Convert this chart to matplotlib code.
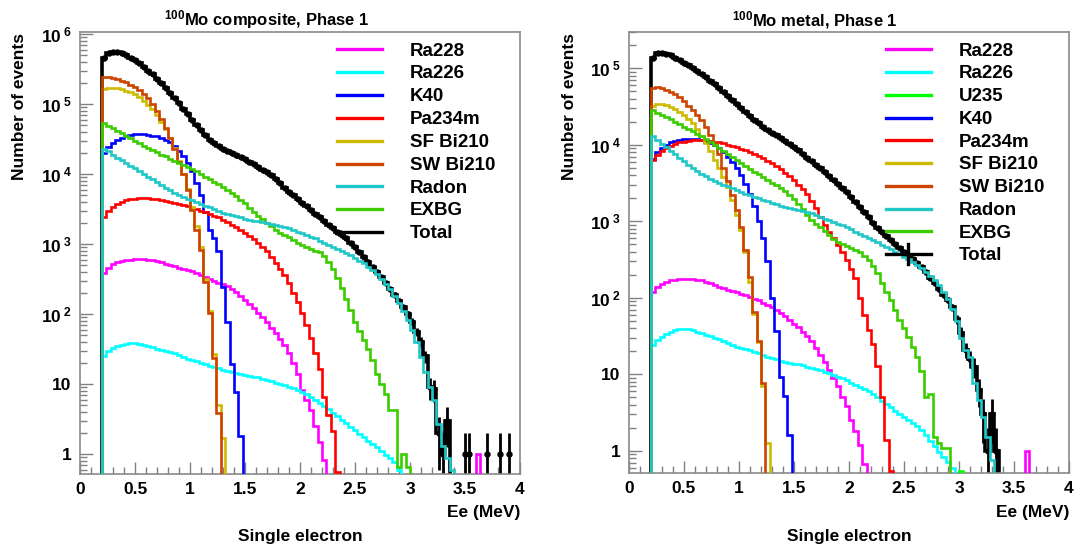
import numpy as np
import matplotlib
matplotlib.use('Agg')
import matplotlib.pyplot as plt
from matplotlib.ticker import FixedLocator, LogLocator, MultipleLocator, NullFormatter, FuncFormatter

plt.rcParams['font.family'] = ['Liberation Sans', 'DejaVu Sans']
plt.rcParams['font.weight'] = 'bold'
plt.rcParams['mathtext.fontset'] = 'custom'
plt.rcParams['mathtext.rm'] = 'Liberation Sans:bold'
plt.rcParams['mathtext.it'] = 'Liberation Sans:bold'
plt.rcParams['mathtext.bf'] = 'Liberation Sans:bold'

# 100 bins of 0.04 MeV, all series start in the bin 0.20-0.24
edges = np.linspace(0, 4, 101)
first_bin = 5

# ---------------- 100Mo composite ----------------
ra228_L = [390, 460, 515, 550, 575, 590, 600, 608, 610, 608,
           600, 585, 565, 545, 525, 500, 480, 460, 440, 420,
           405, 385, 360, 335, 315, 295, 280, 265, 250, 230,
           205, 180, 160, 140, 122, 105, 90, 76, 64, 54,
           44, 36, 28, 20, 14, 8.2, 6.0, 4.3, 2.5, 1.5,
           0.83] + [0] * 34 + [1]
ra226_L = [25, 30, 33, 35, 36.5, 37.5, 38, 38, 37, 36,
           35, 33.5, 32, 31, 30, 28.5, 27.5, 26, 24.5, 23,
           22, 21, 20, 19, 18.2, 17.4, 16.7, 16, 15.4, 14.9,
           14.4, 14, 13.6, 13.2, 12.8, 12.4, 11.9, 11.4, 10.9, 10.5,
           10.1, 9.7, 9.2, 8.7, 8.2, 7.7, 7.1, 6.5, 5.9, 5.4,
           4.9, 4.4, 3.9, 3.5, 3.1, 2.75, 2.45, 2.2, 1.95, 1.75,
           1.55, 1.4, 1.25, 1.1, 0.98, 0.88, 0.78, 0.6]
k40_L = [2.0e4, 2.4e4, 2.75e4, 3.05e4, 3.3e4, 3.45e4, 3.6e4, 3.7e4, 3.72e4, 3.7e4,
         3.65e4, 3.55e4, 3.45e4, 3.3e4, 3.1e4, 2.85e4, 2.5e4, 2.15e4, 1.8e4, 1.45e4,
         1.1e4, 7.5e3, 5.0e3, 2.9e3, 1.6e3, 1.2e3, 800, 244, 78, 19,
         7.8, 1.8]
pa234m_L = [2.4e3, 3.0e3, 3.4e3, 3.75e3, 4.0e3, 4.2e3, 4.35e3, 4.45e3, 4.5e3, 4.5e3,
            4.48e3, 4.42e3, 4.35e3, 4.25e3, 4.15e3, 4.0e3, 3.9e3, 3.75e3, 3.6e3, 3.45e3,
            3.3e3, 3.15e3, 3.0e3, 2.85e3, 2.7e3, 2.55e3, 2.4e3, 2.2e3, 2.05e3, 1.9e3,
            1.75e3, 1.6e3, 1.45e3, 1.3e3, 1.18e3, 1.05e3, 920, 800, 660, 530,
            440, 360, 275, 200, 150, 103, 70, 45, 28, 16.6,
            6.6, 3.6, 2.1, 0.55]
sfbi_L = [1.65e5, 1.7e5, 1.7e5, 1.67e5, 1.62e5, 1.55e5, 1.47e5, 1.37e5, 1.25e5, 1.12e5,
          9.8e4, 8.4e4, 7.0e4, 5.6e4, 4.4e4, 3.3e4, 2.35e4, 1.55e4, 1.0e4, 6.2e3,
          3.4e3, 1.8e3, 900, 320, 110, 27, 5, 1.7]
swbi_L = [2.45e5, 2.4e5, 2.35e5, 2.25e5, 2.15e5, 2.05e5, 1.9e5, 1.75e5, 1.6e5, 1.4e5,
          1.2e5, 1.0e5, 8.0e4, 6.2e4, 4.6e4, 3.3e4, 2.3e4, 1.5e4, 1.0e4, 5.9e3,
          3.1e3, 1.6e3, 820, 290, 103, 23.5, 3.8]
radon_L = [2.3e4, 2.1e4, 1.9e4, 1.72e4, 1.57e4, 1.44e4, 1.32e4, 1.2e4, 1.1e4, 1.0e4,
           9.2e3, 8.4e3, 7.7e3, 7.0e3, 6.4e3, 5.9e3, 5.4e3, 5.0e3, 4.7e3, 4.45e3,
           4.2e3, 4.0e3, 3.75e3, 3.55e3, 3.35e3, 3.15e3, 2.95e3, 2.8e3, 2.7e3, 2.6e3,
           2.5e3, 2.4e3, 2.3e3, 2.22e3, 2.15e3, 2.1e3, 2.05e3, 2.0e3, 1.95e3, 1.9e3,
           1.83e3, 1.76e3, 1.68e3, 1.6e3, 1.5e3, 1.42e3, 1.35e3, 1.27e3, 1.2e3, 1.12e3,
           1.05e3, 980, 910, 850, 790, 740, 690, 640, 580, 530,
           470, 420, 370, 320, 270, 225, 180, 142, 110, 82,
           59, 40, 24, 15, 9, 5.9, 2.7, 1.3, 0.87, 0.6]
exbg_L = [5.3e4, 4.9e4, 4.5e4, 4.15e4, 3.8e4, 3.5e4, 3.25e4, 3.0e4, 2.75e4, 2.55e4,
          2.35e4, 2.2e4, 2.05e4, 1.9e4, 1.78e4, 1.66e4, 1.55e4, 1.45e4, 1.36e4, 1.27e4,
          1.18e4, 1.09e4, 1.0e4, 9.2e3, 8.5e3, 7.8e3, 7.2e3, 6.6e3, 6.0e3, 5.4e3,
          4.8e3, 4.3e3, 3.8e3, 3.3e3, 2.9e3, 2.55e3, 2.25e3, 2.0e3, 1.8e3, 1.6e3,
          1.45e3, 1.35e3, 1.25e3, 1.15e3, 1.05e3, 970, 900, 840, 800, 760,
          680, 560, 440, 330, 235, 166, 115, 78, 58, 43,
          32, 22, 14, 10, 7.2, 4.3, 4.3, 0.66, 1.0, 0.66]
total_L = [4.6e5, 5.4e5, 5.6e5, 5.5e5, 5.3e5, 5.0e5, 4.6e5, 4.2e5, 3.8e5, 3.4e5,
           3.0e5, 2.65e5, 2.3e5, 2.0e5, 1.7e5, 1.45e5, 1.22e5, 1.02e5, 8.6e4, 7.2e4,
           6.0e4, 5.0e4, 4.2e4, 3.6e4, 3.1e4, 2.75e4, 2.5e4, 2.3e4, 2.15e4, 2.0e4,
           1.87e4, 1.75e4, 1.62e4, 1.5e4, 1.38e4, 1.27e4, 1.16e4, 1.06e4, 9.6e3, 8.5e3,
           7.4e3, 6.4e3, 5.6e3, 4.95e3, 4.4e3, 3.9e3, 3.45e3, 3.05e3, 2.7e3, 2.4e3,
           2.1e3, 1.88e3, 1.68e3, 1.5e3, 1.35e3, 1.2e3, 1.05e3, 900, 760, 650,
           550, 470, 400, 335, 280, 230, 190, 155, 125, 100,
           78, 56, 40, 25, 9, 8.5, 2, 1, 3, 0,
           0, 0, 1, 1, 0, 0, 0, 1, 0, 0,
           1, 0, 1]

# ---------------- 100Mo metal ----------------
ra228_R = [120, 140, 152, 162, 168, 172, 175, 177, 177, 175,
           172, 168, 162, 155, 148, 140, 133, 127, 122, 117,
           112, 107, 102, 97, 92, 86, 80, 75, 69, 63,
           57, 51, 46, 41, 36, 32, 27, 22, 18, 14.5,
           11.5, 9, 7, 5, 3.8, 2.5, 1.8, 1.2, 0.67] + [0] * 36 + [1]
ra226_R = [24, 28, 31, 34, 36, 37.5, 38.5, 39, 39, 37.5,
           36, 34.5, 33, 31.5, 30, 28.5, 27, 25.5, 24, 22.8,
           22, 21.2, 20.5, 19.8, 19, 18, 17, 16.2, 15.6, 15,
           14.6, 14.2, 13.8, 13.4, 13, 12.6, 12.2, 11.8, 11.3, 10.8,
           10.3, 9.8, 9.3, 8.8, 8.3, 7.7, 7.2, 6.8, 6.4, 6.0,
           5.5, 5.0, 4.5, 4.1, 3.7, 3.3, 3.0, 2.75, 2.5, 2.3,
           2.1, 1.85, 1.6, 1.35, 1.15, 0.95, 0.82, 0.72, 0.6]
u235_R = [0] * 70 + [0.55]
k40_R = [6.5e3, 8.0e3, 9.0e3, 1.0e4, 1.07e4, 1.12e4, 1.16e4, 1.19e4, 1.2e4, 1.2e4,
         1.18e4, 1.15e4, 1.1e4, 1.05e4, 9.8e3, 9.0e3, 8.0e3, 7.0e3, 6.0e3, 5.0e3,
         4.0e3, 3.1e3, 2.3e3, 1.6e3, 1.0e3, 600, 300, 98, 37, 9.3,
         5.2, 1.6]
pa234m_R = [6.3e3, 7.4e3, 8.3e3, 9.0e3, 9.6e3, 1.02e4, 1.07e4, 1.1e4, 1.13e4, 1.15e4,
            1.16e4, 1.16e4, 1.15e4, 1.13e4, 1.1e4, 1.07e4, 1.04e4, 1.0e4, 9.6e3, 9.2e3,
            8.8e3, 8.4e3, 8.0e3, 7.6e3, 7.2e3, 6.7e3, 6.2e3, 5.7e3, 5.2e3, 4.8e3,
            4.3e3, 3.9e3, 3.5e3, 3.0e3, 2.6e3, 2.25e3, 1.85e3, 1.5e3, 1.15e3, 900,
            720, 600, 490, 400, 310, 240, 180, 100, 60, 38,
            25, 12.7, 5.1, 1.4, 0.55]
sfbi_R = [3.2e4, 3.4e4, 3.4e4, 3.3e4, 3.15e4, 2.95e4, 2.7e4, 2.45e4, 2.2e4, 1.9e4,
          1.6e4, 1.3e4, 1.05e4, 8.2e3, 6.3e3, 4.9e3, 3.8e3, 2.8e3, 1.9e3, 1.2e3,
          760, 400, 160, 62, 26, 7, 1.25]
swbi_R = [5.5e4, 5.6e4, 5.5e4, 5.25e4, 4.95e4, 4.6e4, 4.15e4, 3.7e4, 3.25e4, 2.85e4,
          2.45e4, 2.1e4, 1.7e4, 1.35e4, 1.05e4, 7.6e3, 5.0e3, 3.4e3, 2.2e3, 1.4e3,
          850, 420, 185, 66, 27, 7.6]
radon_R = [1.3e4, 1.15e4, 1.02e4, 9.2e3, 8.2e3, 7.5e3, 6.8e3, 6.1e3, 5.5e3, 5.0e3,
           4.6e3, 4.2e3, 3.9e3, 3.6e3, 3.35e3, 3.15e3, 3.0e3, 2.85e3, 2.7e3, 2.55e3,
           2.4e3, 2.3e3, 2.2e3, 2.1e3, 2.0e3, 1.9e3, 1.82e3, 1.75e3, 1.68e3, 1.6e3,
           1.53e3, 1.47e3, 1.43e3, 1.4e3, 1.36e3, 1.33e3, 1.27e3, 1.2e3, 1.14e3, 1.08e3,
           1.03e3, 980, 930, 880, 830, 780, 730, 690, 650, 610,
           570, 530, 490, 460, 430, 400, 370, 345, 320, 295,
           270, 245, 220, 195, 170, 145, 120, 95, 72, 50,
           30, 21, 17, 7.6, 4.6, 2.8, 1.5, 0.75]
exbg_R = [2.8e4, 2.6e4, 2.45e4, 2.3e4, 2.15e4, 2.0e4, 1.85e4, 1.72e4, 1.6e4, 1.5e4,
          1.4e4, 1.3e4, 1.2e4, 1.1e4, 1.0e4, 9.0e3, 8.2e3, 7.5e3, 6.9e3, 6.3e3,
          5.8e3, 5.3e3, 4.8e3, 4.4e3, 4.1e3, 3.8e3, 3.5e3, 3.2e3, 2.95e3, 2.7e3,
          2.45e3, 2.2e3, 1.95e3, 1.7e3, 1.45e3, 1.2e3, 1.05e3, 930, 830, 740,
          660, 590, 540, 500, 470, 440, 420, 400, 350, 310,
          260, 210, 155, 120, 94, 70, 51, 40, 31, 23,
          17, 11, 5.1, 5.5, 1.5, 1.25, 1.1, 1.1]
total_R = [1.35e5, 1.6e5, 1.6e5, 1.55e5, 1.48e5, 1.38e5, 1.28e5, 1.18e5, 1.09e5, 1.0e5,
           9.2e4, 8.4e4, 7.6e4, 6.9e4, 6.2e4, 5.5e4, 4.9e4, 4.35e4, 3.85e4, 3.4e4,
           3.0e4, 2.65e4, 2.35e4, 2.1e4, 1.9e4, 1.72e4, 1.57e4, 1.44e4, 1.33e4, 1.22e4,
           1.12e4, 1.03e4, 9.4e3, 8.5e3, 7.6e3, 6.8e3, 6.1e3, 5.5e3, 4.9e3, 4.4e3,
           3.9e3, 3.5e3, 3.1e3, 2.7e3, 2.4e3, 2.1e3, 1.8e3, 1.55e3, 1.33e3, 1.13e3,
           960, 820, 720, 640, 570, 510, 450, 400, 360, 320,
           285, 250, 215, 182, 155, 130, 110, 94, 75, 52,
           35, 21, 16, 12.6, 6.2, 3, 1, 3, 1]

colors = {
    'Ra228': '#ff00ff', 'Ra226': '#00ffff', 'U235': '#00ff00', 'K40': '#0000ff',
    'Pa234m': '#ff0000', 'SF Bi210': '#ccbb00', 'SW Bi210': '#cc4400',
    'Radon': '#1fc7c7', 'EXBG': '#3ccc00', 'Total': 'black',
}

series_L = [('Ra228', ra228_L), ('Ra226', ra226_L), ('K40', k40_L), ('Pa234m', pa234m_L),
            ('SF Bi210', sfbi_L), ('SW Bi210', swbi_L), ('EXBG', exbg_L), ('Radon', radon_L)]
legend_L = ['Ra228', 'Ra226', 'K40', 'Pa234m', 'SF Bi210', 'SW Bi210', 'Radon', 'EXBG', 'Total']

series_R = [('Ra228', ra228_R), ('Ra226', ra226_R), ('U235', u235_R), ('K40', k40_R),
            ('Pa234m', pa234m_R), ('SF Bi210', sfbi_R), ('SW Bi210', swbi_R),
            ('EXBG', exbg_R), ('Radon', radon_R)]
legend_R = ['Ra228', 'Ra226', 'U235', 'K40', 'Pa234m', 'SF Bi210', 'SW Bi210', 'Radon', 'EXBG', 'Total']


def pad(vals):
    out = np.zeros(len(edges) - 1)
    out[first_bin:first_bin + len(vals)] = vals
    return out


def draw_panel(ax, series, total, legend, ymin, ymax, decades, bar_in_legend):
    centers = 0.5 * (edges[1:] + edges[:-1])
    floor = ymin * 1e-3

    # black line only over the contiguous part of the total, isolated tail bins get points only
    tot = pad(total)
    run = np.array(total) > 0
    n_run = len(total) if run.all() else int(np.argmin(run))
    line = tot.copy()
    line[first_bin + n_run:] = 0
    ax.stairs(np.where(line > 0, line, floor), edges, baseline=floor, color='black', lw=2.6, zorder=2)
    m = tot > 0
    err = np.sqrt(tot[m])
    ax.errorbar(centers[m], tot[m], yerr=[np.minimum(err, tot[m] - floor), err], fmt='o', ms=3.6,
                color='black', elinewidth=2.0, capsize=0, zorder=2)

    for name, vals in series:
        v = pad(vals)
        ax.stairs(np.where(v > 0, v, floor), edges, baseline=floor, color=colors[name], lw=1.9, zorder=3)

    ax.set_yscale('log')
    ax.set_xlim(0, 4)
    ax.set_ylim(ymin, ymax)

    ax.yaxis.set_major_locator(FixedLocator(decades))
    labels = []
    for d in decades:
        e = int(round(np.log10(d)))
        labels.append('1' if e == 0 else '10' if e == 1 else '10$^{\\;%d}$' % e)
    ax.set_yticklabels(labels)
    ax.yaxis.set_minor_locator(LogLocator(base=10, subs=np.arange(2, 10), numticks=30))
    ax.yaxis.set_minor_formatter(NullFormatter())
    ax.xaxis.set_major_locator(MultipleLocator(0.5))
    ax.xaxis.set_minor_locator(MultipleLocator(0.1))
    ax.xaxis.set_major_formatter(FuncFormatter(lambda v, p: '%g' % v))

    ax.tick_params(which='both', direction='in', top=False, right=False, color='#808080',
                   labelsize=12.5, width=1)
    ax.tick_params(which='major', length=9, pad=6)
    ax.tick_params(which='minor', length=5)
    for s in ax.spines.values():
        s.set_color('#8a8a8a')
        s.set_linewidth(1.2)

    # legend drawn in axes coordinates
    y0, step = 0.96, 0.0516
    for i, name in enumerate(legend):
        y = y0 - i * step
        ax.plot([0.584, 0.686], [y, y], transform=ax.transAxes, color=colors[name], lw=2.4,
                clip_on=False, zorder=5)
        if name == 'Total' and bar_in_legend:
            ax.plot([0.635, 0.635], [y - 0.022, y + 0.022], transform=ax.transAxes,
                    color='black', lw=2.4, clip_on=False, zorder=5)
        ax.text(0.75, y - 0.014, name, transform=ax.transAxes, va='baseline', ha='left',
                fontsize=13.5, zorder=5)


fig = plt.figure(figsize=(10.75, 5.5), dpi=100)
axL = fig.add_axes([80 / 1075, 76 / 550, 440 / 1075, 442.3 / 550])
axR = fig.add_axes([629 / 1075, 77.3 / 550, 440 / 1075, 441 / 550])

draw_panel(axL, series_L, total_L, legend_L, 0.518, 1.08e6,
           [1, 10, 1e2, 1e3, 1e4, 1e5, 1e6], False)
draw_panel(axR, series_R, total_R, legend_R, 0.516, 3.0e5,
           [1, 10, 1e2, 1e3, 1e4, 1e5], True)

fig.text(267 / 1075, 1 - 20 / 550, r'$^{100}$Mo composite, Phase 1', ha='center', va='center', fontsize=12)
fig.text(815 / 1075, 1 - 20 / 550, r'$^{100}$Mo metal, Phase 1', ha='center', va='center', fontsize=12)

for xl in (20, 569):
    fig.text(xl / 1075, 1 - 33 / 550, 'Number of events', rotation=90, ha='center', va='top', fontsize=12.5)
for xr, xc in ((520, 300), (1069, 849)):
    fig.text(xr / 1075, 1 - 513 / 550, 'Ee (MeV)', ha='right', va='center', fontsize=12.5)
    fig.text(xc / 1075, 1 - 536 / 550, 'Single electron', ha='center', va='center', fontsize=12.5)

fig.savefig('out.png', dpi=100)
